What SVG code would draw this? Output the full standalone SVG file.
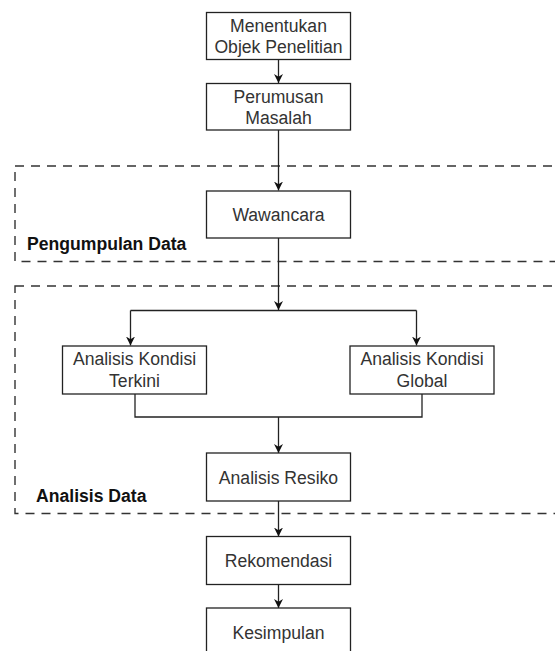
<svg xmlns="http://www.w3.org/2000/svg" width="555" height="651" viewBox="0 0 555 651">
<style>
.box{fill:#fff;stroke:#222;stroke-width:1.3}
.t{font-family:"Liberation Sans",Arial,sans-serif;font-size:17.6px;fill:#333;text-anchor:middle}
.lbl{font-family:"Liberation Sans",Arial,sans-serif;font-size:17.6px;font-weight:bold;fill:#111}
.grp{fill:none;stroke:#333;stroke-width:1.4;stroke-dasharray:9 7}
.c{fill:none;stroke:#222;stroke-width:1.3}
</style>
<defs>
<marker id="arr" viewBox="0 0 10 10" refX="10" refY="5" markerWidth="9" markerHeight="9" markerUnits="userSpaceOnUse" orient="auto">
<path d="M0,0 L10,5 L0,10 L3,5 Z" fill="#111"/>
</marker>
</defs>
<rect width="555" height="651" fill="#fff"/>
<g id="group-pengumpulan">
<rect class="grp" x="15" y="166" width="560" height="95.5"/>
<text class="lbl" x="27" y="250">Pengumpulan Data</text>
</g>
<g id="group-analisis">
<rect class="grp" x="15" y="286" width="560" height="227.5"/>
<text class="lbl" x="36" y="501.5">Analisis Data</text>
</g>
<g id="connectors">
<path class="c" d="M278.5,59.5 V83" marker-end="url(#arr)"/>
<path class="c" d="M278.5,130 V190.5" marker-end="url(#arr)"/>
<path class="c" d="M278.5,238 V310" marker-end="url(#arr)"/>
<path class="c" d="M130.5,310.5 H416.5"/>
<path class="c" d="M130.5,310.5 V345.5" marker-end="url(#arr)"/>
<path class="c" d="M416.5,310.5 V345.5" marker-end="url(#arr)"/>
<path class="c" d="M135,394 V417 H422 V394"/>
<path class="c" d="M278.5,417 V453" marker-end="url(#arr)"/>
<path class="c" d="M278.5,501 V536.5" marker-end="url(#arr)"/>
<path class="c" d="M278.5,584.5 V608" marker-end="url(#arr)"/>
</g>
<g id="n-menentukan">
<rect class="box" x="206.5" y="12.5" width="144" height="47"/>
<text class="t" x="278.5" y="31.7">Menentukan</text>
<text class="t" x="278.5" y="53.3">Objek Penelitian</text>
</g>
<g id="n-perumusan">
<rect class="box" x="206.5" y="83.5" width="144" height="46.5"/>
<text class="t" x="278.5" y="102.7">Perumusan</text>
<text class="t" x="278.5" y="124.3">Masalah</text>
</g>
<g id="n-wawancara">
<rect class="box" x="206.5" y="191" width="144" height="47"/>
<text class="t" x="278.5" y="221">Wawancara</text>
</g>
<g id="n-terkini">
<rect class="box" x="62.5" y="346" width="144" height="48"/>
<text class="t" x="134.5" y="365">Analisis Kondisi</text>
<text class="t" x="134.5" y="387.3">Terkini</text>
</g>
<g id="n-global">
<rect class="box" x="350" y="346" width="144" height="48"/>
<text class="t" x="422" y="365">Analisis Kondisi</text>
<text class="t" x="422" y="387.3">Global</text>
</g>
<g id="n-resiko">
<rect class="box" x="206.5" y="453" width="144" height="48"/>
<text class="t" x="278.5" y="484">Analisis Resiko</text>
</g>
<g id="n-rekomendasi">
<rect class="box" x="206.5" y="536.5" width="144" height="48"/>
<text class="t" x="278.5" y="567.3">Rekomendasi</text>
</g>
<g id="n-kesimpulan">
<rect class="box" x="206.5" y="608" width="144" height="60"/>
<text class="t" x="278.5" y="639.3">Kesimpulan</text>
</g>
</svg>
